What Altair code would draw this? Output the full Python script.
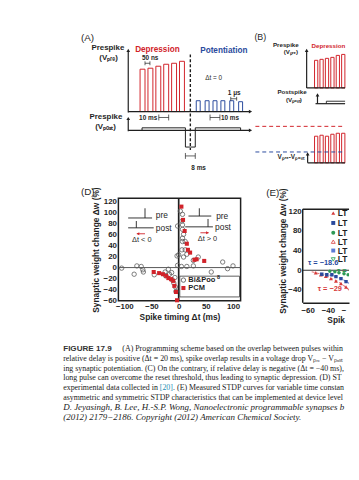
import altair as alt
import pandas as pd

SANS = "Liberation Sans"
SERIF = "Liberation Serif"
INK = "#1f1f1f"
RED = "#d1232a"
BLUE = "#2a4a9d"
TEAL = "#1f8fb5"
GREEN = "#2f9a55"
RIGHT = 350   # last usable page x (the page keeps an 8 px margin on the right)
ORIGIN = 119  # left edge of panel D's plot area; every row shares it
CUT = "\u200b"

# ================= Panel (D) data =================
bipoo_dt = [-105, -82, -77, -69, -66, -65, -45, -25, -24, -19, -17, -13, -12, -9, -7, -6, -5,
            -2, -3, 0, -2,
            3, 7, 6, 7, 7, 9, 7, 7, 12, 6, 12, 9, 15, 36, 27, 27, 15, 5, 60, 81, 90, 100]
bipoo_dw = [-1, -12, 3, 2, -4, -8, -13, -8, -15, -3, -12, -9, -22, -28, -18, -35, -43,
            4, 21, 23, 75,
            102, 96, 84, 77, 69, 60, 53, 47, 47, 32, 32, 19, 24, 19, 13, 3, 2, 2, -8, 10, -2, 3]
pcm_dt = [-46, -36, -29, -23, -19, -14, -10, -8, -5, -3, 5, 8, 11, 15, 17, 21, 29, 33, 47]
pcm_dw = [-8, -10, -12, -15, -19, -21, -24, -33, -44, -59, 110, 86, 66, 43, 32, 27, 14, 15, 12]
d_xticks = [-100, -50, 0, 50, 100]
d_yticks = [-60, -40, -20, 0, 20, 40, 60, 80, 100, 120]

# ================= Panel (E) data =================
e_red_dt = [-52, -47, -42, -37, -32, -27, -22, -17, -12]
e_red_dw = [-5, -9, -12, -17, -22, -27, -34, -43, -53]
e_blue_dt = [-46, -41, -36, -32, -27, -22, -17, -12]
e_blue_dw = [-8, -9, -9, -13, -17, -23, -32, -43]
e_green_dt = [-38, -33, -29, -24, -20, -16, -12]
e_green_dw = [-2, -3, -5, -7, -9, -11, -15]
fit_red_dt = [-56, -50, -45, -40, -35, -30, -25, -20, -15, -10]
fit_red_dw = [-3, -6, -9, -13, -18, -23, -30, -38, -50, -65]
fit_blue_dt = [-48, -44, -40, -36, -32, -28, -24, -20, -16, -12]
fit_blue_dw = [-6, -7, -9, -11, -13, -16, -20, -25, -32, -42]
fit_green_dt = [-40, -35, -30, -25, -20, -15, -10]
fit_green_dw = [-1, -2, -4, -6, -9, -13, -19]
e_legend = ["LTP-1", "LTP-2", "LTP-3", "LTD-1", "LTD-2", "LTD-3"]
e_xticks = [-60, -40]
e_xtick_cut = -20
e_yticks = [-40, 0, 40, 80, 120]

# ================= Caption =================
cap_lines = [
    "relative delay is positive (\u0394t = 20 ms), spike overlap results in a voltage drop V\u209a\u1d63\u2091 \u2212 V\u209a\u2092\u209b\u209c across the device lead-",
    "ing synaptic potentiation. (C) On the contrary, if relative delay is negative (\u0394t = \u221240 ms), spike overlap with the",
    "long pulse can overcome the reset threshold, thus leading to synaptic depression. (D) STDP curves compared with",
]
cap_first = "(A) Programming scheme based on the overlap between pulses within PRAM devices. (B) When"
cap_l5a = "experimental data collected in"
cap_l5b = "[20]"
cap_l5c = ". (E) Measured STDP curves for variable time constants \u03c4. Note the"
cap_l6 = "asymmetric and symmetric STDP characteristics that can be implemented at device level changing the"
cap_ref = ["D. Jeyasingh, B. Lee, H.-S.P. Wong, Nanoelectronic programmable synapses based on phase",
           "(2012) 2179\u22122186. Copyright (2012) American Chemical Society."]

# ---------------------------------------------------------------
LBL = 8
AX = dict(labelFont=SANS, labelFontWeight="bold", labelFontSize=LBL, labelColor=INK,
          titleFont=SANS, titleFontWeight="bold", titleFontSize=8.5, titleColor=INK,
          ticks=False, grid=False)


def make_panel(xs, ys, axx, axy):
    def enc(df):
        e = {}
        if "x" in df:
            e["x"] = alt.X("x:Q", scale=xs, axis=axx)
        if "y" in df:
            e["y"] = alt.Y("y:Q", scale=ys, axis=axy)
        if "x2" in df:
            e["x2"] = "x2:Q"
        if "y2" in df:
            e["y2"] = "y2:Q"
        if "t" in df:
            e["text"] = "t:N"
        if "o" in df:
            e["order"] = "o:Q"
        return e
    return enc


# ======================== Panel D ========================
xsD = alt.Scale(domain=[-111, 114], nice=False, zero=False)
ysD = alt.Scale(domain=[-60, 125], nice=False, zero=False)
axDx = alt.Axis(values=d_xticks, title="Spike timing \u0394t (ms)", titlePadding=2, labelFlush=False,
                domain=False, labelPadding=2, **AX)
axDy = alt.Axis(values=d_yticks, title="Synaptic weight change \u0394w (%)", titlePadding=3,
                domain=False, labelPadding=2, **AX)
encD = make_panel(xsD, ysD, axDx, axDy)

d_layers = []
df = pd.DataFrame({"x": [0]})
d_layers.append(alt.Chart(df).mark_rule(color=INK, strokeWidth=1.7).encode(**encD(df)))
df = pd.DataFrame({"y": [0]})
d_layers.append(alt.Chart(df).mark_rule(color="#444", strokeWidth=0.9).encode(**encD(df)))
df = pd.DataFrame({"x": bipoo_dt, "y": bipoo_dw})
d_layers.append(alt.Chart(df).mark_point(shape="circle", filled=False, size=20, color="#5c5c5c",
                                          strokeWidth=0.8, opacity=1).encode(**encD(df)))
df = pd.DataFrame({"x": pcm_dt, "y": pcm_dw})
d_layers.append(alt.Chart(df).mark_square(size=17, color=RED, opacity=1).encode(**encD(df)))

df = pd.DataFrame({"x": [-93, -62, -93, -78, 18, 38, 12, 54],
                   "x2": [-49, -62, -46, -78, 60, 38, 63, 54],
                   "y": [89.5, 107, 71.7, 84, 93, 107, 73.5, 87.7],
                   "y2": [89.5, 89.5, 71.7, 71.7, 93, 93, 73.5, 73.5]})
d_layers.append(alt.Chart(df).mark_rule(color=INK, strokeWidth=0.9).encode(**encD(df)))
df = pd.DataFrame({"x": [-77, 40], "x2": [-62, 55], "y": [61, 62.8], "y2": [61, 62.8]})
d_layers.append(alt.Chart(df).mark_rule(color=RED, strokeWidth=0.9).encode(**encD(df)))
df = pd.DataFrame({"x": [-75], "y": [61]})
d_layers.append(alt.Chart(df).mark_point(shape="triangle-left", filled=True, size=10, color=RED,
                                          opacity=1).encode(**encD(df)))
df = pd.DataFrame({"x": [53], "y": [62.8]})
d_layers.append(alt.Chart(df).mark_point(shape="triangle-right", filled=True, size=10, color=RED,
                                          opacity=1).encode(**encD(df)))
df = pd.DataFrame({"x": [-42, -42, 69, 67], "y": [95, 71.7, 93, 73.5], "t": ["pre", "post", "pre", "post"]})
d_layers.append(alt.Chart(df).mark_text(align="left", baseline="middle", font=SANS, fontSize=8.5,
                                         color=INK).encode(**encD(df)))
df = pd.DataFrame({"x": [-68, 53], "y": [50, 52], "t": ["\u0394t < 0", "\u0394t > 0"]})
d_layers.append(alt.Chart(df).mark_text(align="center", baseline="middle", font=SANS, fontSize=7.5,
                                         color=INK).encode(**encD(df)))
df = pd.DataFrame({"x": [2], "x2": [112], "y": [-53], "y2": [-15.5]})
d_layers.append(alt.Chart(df).mark_rect(fill="white", stroke="#333", strokeWidth=0.8).encode(**encD(df)))
df = pd.DataFrame({"x": [8.7], "y": [-22.6]})
d_layers.append(alt.Chart(df).mark_point(shape="circle", filled=False, size=20, color="#5c5c5c",
                                          strokeWidth=0.9, opacity=1).encode(**encD(df)))
df = pd.DataFrame({"x": [8.7], "y": [-36.9]})
d_layers.append(alt.Chart(df).mark_square(size=17, color=RED, opacity=1).encode(**encD(df)))
df = pd.DataFrame({"x": [17.8, 17.8], "y": [-22.6, -36.9], "t": ["Bi&Poo", "PCM"]})
d_layers.append(alt.Chart(df).mark_text(align="left", baseline="middle", font=SANS, fontSize=7.6,
                                         fontWeight="bold", color=INK).encode(**encD(df)))
df = pd.DataFrame({"x": [70.5], "y": [-17.5], "t": ["8"]})
d_layers.append(alt.Chart(df).mark_text(align="left", baseline="middle", font=SANS, fontSize=5.5,
                                         fontWeight="bold", color=INK).encode(**encD(df)))
df = pd.DataFrame({"x": [-180], "y": [135.7], "t": ["(D)"]})
d_layers.append(alt.Chart(df).mark_text(align="left", baseline="middle", font=SANS, fontSize=10,
                                         color=INK).encode(**encD(df)))

chartD = alt.layer(*d_layers).properties(
    width=124, height=104, view=alt.ViewBackground(stroke=INK, strokeWidth=1.5))

# ======================== Panel E ========================
E_LEFT = 303
E_W = RIGHT - E_LEFT
E_PX = 1.025
E_TOP = 124
E_BOT = -66
xsE = alt.Scale(domain=[-64.9, -64.9 + E_W / E_PX], nice=False, zero=False)
ysE = alt.Scale(domain=[E_BOT, 146], nice=False, zero=False)
axEx = alt.Axis(values=e_xticks, title=None, labelFlush=False, domain=True, domainColor=INK,
                domainWidth=1.5, labelPadding=4, **AX)
axEy = alt.Axis(values=e_yticks, title="Synaptic weight change \u0394w (%)", titlePadding=0,
                domain=False, labelPadding=1.5, **AX)
encE = make_panel(xsE, ysE, axEx, axEy)


def ex(X):  # page x -> panel E data x
    return -64.9 + (X - E_LEFT) / E_PX


e_layers = []
df = pd.DataFrame({"y": [0]})
e_layers.append(alt.Chart(df).mark_rule(color="#333", strokeWidth=1.2).encode(**encE(df)))
df = pd.DataFrame({"y": [E_TOP]})
e_layers.append(alt.Chart(df).mark_rule(color=INK, strokeWidth=1.5).encode(**encE(df)))
df = pd.DataFrame({"x": [-64.9], "y": [E_BOT], "y2": [E_TOP]})
e_layers.append(alt.Chart(df).mark_rule(color=INK, strokeWidth=1.5).encode(**encE(df)))
for fx, fy, col in [(fit_red_dt, fit_red_dw, "#e57a7a"), (fit_blue_dt, fit_blue_dw, "#6d8bd6"),
                    (fit_green_dt, fit_green_dw, "#5cc08a")]:
    df = pd.DataFrame({"x": fx, "y": fy, "o": list(range(len(fx)))})
    e_layers.append(alt.Chart(df).mark_line(color=col, strokeWidth=1.1, strokeDash=[3, 2], clip=True)
                    .encode(**encE(df)))
df = pd.DataFrame({"x": e_red_dt, "y": e_red_dw})
e_layers.append(alt.Chart(df).mark_point(shape="triangle-up", filled=True, size=16, color="#d63a3a",
                                          opacity=1, clip=True).encode(**encE(df)))
df = pd.DataFrame({"x": e_blue_dt, "y": e_blue_dw})
e_layers.append(alt.Chart(df).mark_square(size=12, color=BLUE, opacity=1, clip=True).encode(**encE(df)))
df = pd.DataFrame({"x": e_green_dt, "y": e_green_dw})
e_layers.append(alt.Chart(df).mark_point(shape="circle", filled=True, size=12, color=GREEN,
                                          opacity=1, clip=True).encode(**encE(df)))
for tx, ty, tt, col in [(-59.7, 14, "\u03c4 = \u221218.6", BLUE), (-50, -38, "\u03c4 = \u221229", "#d63a3a"),
                        (-31, -1, "\u03c4 = \u221211.3", GREEN)]:
    df = pd.DataFrame({"x": [tx], "y": [ty], "t": [tt]})
    e_layers.append(alt.Chart(df).mark_text(align="left", baseline="middle", font=SANS, fontSize=7.5,
                                             fontWeight="bold", color=col, clip=True).encode(**encE(df)))
leg_y = [116, 96, 76, 58, 40, 22]
leg_shape = ["triangle-up", "square", "circle", "triangle-up", "square", "triangle-down"]
leg_col = ["#d63a3a", BLUE, GREEN, "#e06060", "#5b7bd5", "#44b070"]
leg_fill = [True, True, True, False, True, False]
for i in range(6):
    df = pd.DataFrame({"x": [ex(334)], "y": [leg_y[i]]})
    e_layers.append(alt.Chart(df).mark_point(shape=leg_shape[i], filled=leg_fill[i], size=16,
                                              color=leg_col[i], strokeWidth=1, opacity=1).encode(**encE(df)))
df = pd.DataFrame({"x": [ex(338.5)] * 6, "y": leg_y, "t": e_legend})
e_layers.append(alt.Chart(df).mark_text(align="left", baseline="middle", font=SANS, fontSize=8.5,
                                         fontWeight="bold", color=INK, limit=RIGHT - 338.5, ellipsis=CUT)
                .encode(**encE(df)))
df = pd.DataFrame({"x": [ex(266)], "y": [156], "t": ["(E)"]})
e_layers.append(alt.Chart(df).mark_text(align="left", baseline="middle", font=SANS, fontSize=10,
                                         color=INK).encode(**encE(df)))
# tick label of -20, cut by the page edge
df = pd.DataFrame({"x": [e_xtick_cut], "y": [E_BOT - 8 / 0.5], "t": ["\u221220"]})
e_layers.append(alt.Chart(df).mark_text(align="left", baseline="middle", font=SANS, fontSize=LBL,
                                         fontWeight="bold", color=INK, dx=-6.5,
                                         limit=RIGHT - (E_LEFT + (e_xtick_cut + 64.9) * E_PX - 6.5),
                                         ellipsis=CUT).encode(**encE(df)))
df = pd.DataFrame({"x": [ex(328)], "y": [E_BOT - 18 / 0.5], "t": ["Spike timing \u0394t (ms)"]})
e_layers.append(alt.Chart(df).mark_text(align="left", baseline="middle", font=SANS, fontSize=8.5,
                                         fontWeight="bold", color=INK, limit=RIGHT - 328, ellipsis=CUT)
                .encode(**encE(df)))

chartE = alt.layer(*e_layers).properties(
    width=E_W, height=106, view=alt.ViewBackground(stroke="transparent"))

# ======================== Schematic (A) & (B) ========================
S_Y0 = 20
S_W, S_H = RIGHT - ORIGIN, 163
xsS = alt.Scale(domain=[0, S_W], nice=False, zero=False)
ysS = alt.Scale(domain=[0, S_H], nice=False, zero=False, reverse=True)
encS = make_panel(xsS, ysS, None, None)


def P(X):
    return X - ORIGIN


def Q(Y):
    return Y - S_Y0


s_layers = []


def s_rules(rows, **kw):
    df = pd.DataFrame({"x": [P(r[0]) for r in rows], "y": [Q(r[1]) for r in rows],
                       "x2": [P(r[2]) for r in rows], "y2": [Q(r[3]) for r in rows]})
    s_layers.append(alt.Chart(df).mark_rule(**kw).encode(**encS(df)))


def s_heads(rows, shape):
    df = pd.DataFrame({"x": [P(r[0]) for r in rows], "y": [Q(r[1]) for r in rows]})
    s_layers.append(alt.Chart(df).mark_point(shape=shape, filled=True, size=14, color=INK,
                                              opacity=1).encode(**encS(df)))


def s_pulses(starts, width, tops, base, color):
    keep = [i for i, s in enumerate(starts) if s + width <= RIGHT - 1]
    df = pd.DataFrame({"x": [P(starts[i]) for i in keep], "x2": [P(starts[i] + width) for i in keep],
                       "y": [Q(tops[i]) for i in keep], "y2": [Q(base)] * len(keep)})
    s_layers.append(alt.Chart(df).mark_rect(fill="white", stroke=color, strokeWidth=1).encode(**encS(df)))


def s_path(pts, **kw):
    df = pd.DataFrame({"x": [P(p[0]) for p in pts], "y": [Q(p[1]) for p in pts], "o": list(range(len(pts)))})
    s_layers.append(alt.Chart(df).mark_line(**kw).encode(**encS(df)))


def s_text(X, Y, t, size, weight="bold", color=INK, align="left", font=SANS):
    df = pd.DataFrame({"x": [P(X)], "y": [Q(Y)], "t": [t]})
    kw = {}
    if align == "left":
        kw = dict(limit=RIGHT - X, ellipsis=CUT)
    s_layers.append(alt.Chart(df).mark_text(align=align, baseline="middle", font=font, fontSize=size,
                                             fontWeight=weight, color=color, **kw).encode(**encS(df)))


E_ = RIGHT - 1
a_dep_start = [141, 149, 157, 165, 173, 181]
a_dep_top = [68, 67, 65, 63, 62, 60]
a_pot_start = [198, 207, 215, 223, 232, 241]
a_pot_top = [100, 100, 100, 100, 100, 101]
s_pulses(a_dep_start, 5, a_dep_top, 111, RED)
s_pulses(a_pot_start, 4, a_pot_top, 111, BLUE)
s_path([(143, 130), (143, 127.5), (187, 127.5), (187, 147), (197, 147), (197, 127.5), (243, 127.5), (243, 130)],
       color=INK, strokeWidth=1)
b_start = [318, 323.5, 329, 334.5, 340, 345.5, 351]
b_top_pre = [59, 58, 57, 56, 54, 53, 52]
b_top_diff = [136, 135, 136, 134, 133, 133, 132]
s_pulses(b_start, 3.3, b_top_pre, 87, RED)
s_pulses(b_start, 3.3, b_top_diff, 163, RED)
s_path([(330, 103), (330, 100.5), (E_, 100.5)], color=INK, strokeWidth=0.9)

s_rules([(129, 112, 129, 50), (129, 111, 252, 111), (129, 131, 129, 119), (129, 130, 252, 130),
         (310, 87, 310, 50), (310, 87, E_, 87), (321, 103, 321, 95), (319, 103, E_, 103),
         (311, 163, 311, 155), (311, 163, E_, 163)], color=INK, strokeWidth=1.2)
s_rules([(146, 62, 151, 62), (146, 60, 146, 64), (151, 60, 151, 64),
         (233, 98, 239, 98), (233, 96, 233, 100), (239, 96, 239, 100),
         (160, 117, 170, 117), (160, 114, 160, 120), (170, 114, 170, 120),
         (212, 117, 222, 117), (212, 114, 212, 120), (222, 114, 222, 120),
         (187, 156, 197, 156), (187, 153, 187, 159), (197, 153, 197, 159)], color=INK, strokeWidth=0.7)
s_rules([(192, 53, 192, 150)], color=INK, strokeWidth=1.4, strokeDash=[3, 2])
s_rules([(258, 126, E_, 126)], color=RED, strokeWidth=1, strokeDash=[4, 3])
s_rules([(258, 152, E_, 152)], color=BLUE, strokeWidth=1, strokeDash=[4, 3])
s_heads([(129, 49), (129, 118), (310, 49), (321, 94), (311, 154)], "triangle-up")
s_heads([(253, 111), (253, 130)], "triangle-right")

s_text(81, 36, "(A)", 10, weight="normal")
s_text(125, 47, "Prespike", 8, align="right")
s_text(109, 57, "(V\u209a\u1d63\u2091)", 8, align="center")
s_text(136, 49, "Depression", 8.3, color=RED)
s_text(143, 57, "50 ns", 6.5)
s_text(202, 50, "Potentiation", 8.3, color=BLUE)
s_text(207, 77, "\u0394t = 0", 6.5, weight="normal")
s_text(230, 92, "1 \u03bcs", 6.5)
s_text(140, 118, "10 ms", 6.5)
s_text(223, 118, "10 ms", 6.5)
s_text(123, 117, "Prespike", 8, align="right")
s_text(106, 127, "(V\u209a\u2092\u209b\u209c)", 8, align="center")
s_text(193, 168, "8 ms", 6.5)
s_text(257, 35, "(B)", 9, weight="normal")
s_text(302, 43, "Prespike", 6.3, align="right")
s_text(294, 51, "(V\u209a\u1d63\u2091)", 6.3, align="center")
s_text(315, 45, "Depression", 6.3, color=RED)
s_text(310, 91.5, "Postspike", 6.3, align="right")
s_text(297, 99.5, "(V\u209a\u2092\u209b\u209c)", 6.3, align="center")
s_text(308, 157, "V\u209a\u1d63\u2091-V\u209a\u2092\u209b\u209c", 6.5, align="right")

chartS = alt.layer(*s_layers).properties(width=S_W, height=S_H,
                                          view=alt.ViewBackground(stroke="transparent"))

# ======================== Caption ========================
C_H = 100
C_T0 = 21
C_STEP = 9.86
C_LEFT = 63
C_W = RIGHT - ORIGIN
ysC = alt.Scale(domain=[-C_T0 / C_STEP, (C_H - C_T0) / C_STEP], nice=False, zero=False, reverse=True)
c_layers = []


def c_text(line, t, size, indent=0, weight="normal", style="normal", color="#222", font=SERIF):
    start = C_LEFT + indent
    df = pd.DataFrame({"line": [line], "t": [t]})
    c_layers.append(alt.Chart(df).mark_text(align="left", baseline="middle", font=font, fontSize=size,
                                             fontWeight=weight, fontStyle=style, color=color,
                                             dx=start - ORIGIN, limit=RIGHT - start, ellipsis=CUT).encode(
        x=alt.value(0), y=alt.Y("line:Q", scale=ysC, axis=None), text="t:N"))


CS = 8.0
c_text(0, "FIGURE 17.9", 8.2, weight="bold", font=SANS, color="#333")
c_text(0, cap_first, CS, indent=60)
for i, t in enumerate(cap_lines):
    c_text(i + 1, t, CS)
c_text(4, cap_l5a, CS)
c_text(4, cap_l5b, CS, indent=98, color=TEAL)
c_text(4, cap_l5c, CS, indent=111.5)
c_text(5, cap_l6, CS)
c_text(6, cap_ref[0], 9.1, style="italic")
c_text(7, cap_ref[1], 9.1, style="italic")

chartC = alt.layer(*c_layers).properties(width=C_W, height=C_H,
                                          view=alt.ViewBackground(stroke="transparent"))

row2 = alt.hconcat(chartD, chartE, spacing=23)
chart = alt.vconcat(chartS, row2, chartC, spacing=2).properties(
    padding={"left": 55, "top": 10, "right": 0, "bottom": 0},
    background="white",
).configure_view(stroke="transparent")

chart.save("out.html", embed_options={"renderer": "svg", "actions": False})
